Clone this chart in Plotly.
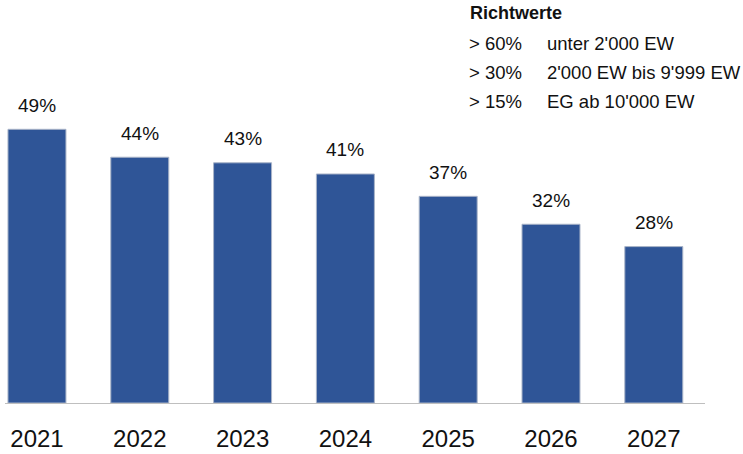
import plotly.graph_objects as go

years = ["2021", "2022", "2023", "2024", "2025", "2026", "2027"]
values = [49, 44, 43, 41, 37, 32, 28]
labels = ["49%", "44%", "43%", "41%", "37%", "32%", "28%"]

legend_title = "Richtwerte"
legend_thresholds = ["> 60%", "> 30%", "> 15%"]
legend_texts = ["unter 2'000 EW", "2'000 EW bis 9'999 EW", "EG ab 10'000 EW"]

FONT = "Liberation Sans, Arial, sans-serif"

fig = go.Figure()
fig.add_trace(go.Bar(
    x=list(range(len(years))), y=values,
    width=0.564,
    marker=dict(color="#2F5597", line=dict(color="#A9B4C8", width=1)),
    hoverinfo="skip",
))

for i, (v, t) in enumerate(zip(values, labels)):
    fig.add_annotation(x=i, y=v, text=t, showarrow=False, yanchor="middle",
                       yshift=24, font=dict(size=19, color="#111111", family=FONT))

# legend-like text block
fig.add_annotation(xref="paper", yref="paper", x=(468 - 5) / 700, y=(454 - 13 - 51) / 391,
                   xanchor="left", yanchor="middle", showarrow=False,
                   text="<b>" + legend_title + "</b>",
                   font=dict(size=18, color="#111111", family=FONT))
rows_y = [43, 72, 102]
for ry, th, tx in zip(rows_y, legend_thresholds, legend_texts):
    yp = (454 - ry - 51) / 391
    fig.add_annotation(xref="paper", yref="paper", x=(467 - 5) / 700, y=yp,
                       xanchor="left", yanchor="middle", showarrow=False, text=th,
                       font=dict(size=18.5, color="#111111", family=FONT))
    fig.add_annotation(xref="paper", yref="paper", x=(545 - 5) / 700, y=yp,
                       xanchor="left", yanchor="middle", showarrow=False, text=tx,
                       font=dict(size=18.5, color="#111111", family=FONT))

fig.update_layout(
    width=743, height=454,
    margin=dict(l=5, r=38, t=12, b=51, autoexpand=False),
    paper_bgcolor="white", plot_bgcolor="white",
    showlegend=False,
    xaxis=dict(
        range=[-0.311, 6.498],
        automargin=False,
        tickvals=list(range(len(years))), ticktext=years,
        showline=True, linecolor="#BFBFBF", linewidth=1,
        showgrid=False, zeroline=False,
        ticks="outside", ticklen=14, tickcolor="rgba(0,0,0,0)",
        tickfont=dict(size=24, color="#111111", family=FONT),
    ),
    yaxis=dict(range=[0, 70], visible=False, showgrid=False, zeroline=False),
)

fig.write_html("out.html")
